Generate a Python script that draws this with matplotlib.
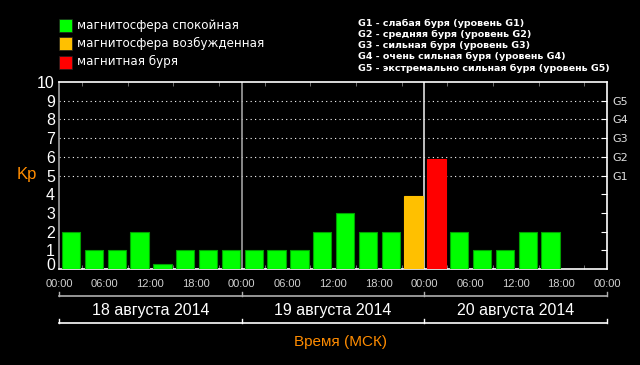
import matplotlib
matplotlib.use("Agg")
import matplotlib.pyplot as plt
import matplotlib.transforms as mtransforms
import numpy as np

# ---- data ----
kp_values = [2.0, 1.0, 1.0, 2.0, 0.25, 1.0, 1.0, 1.0,
             1.0, 1.0, 1.0, 2.0, 3.0, 2.0, 2.0, 3.93,
             5.87, 2.0, 1.0, 1.0, 2.0, 2.0]
hour_ticks = [0, 6, 12, 18, 24, 30, 36, 42, 48, 54, 60, 66, 72]
hour_labels = ["00:00", "06:00", "12:00", "18:00"] * 3 + ["00:00"]
day_labels = ["18 августа 2014", "19 августа 2014", "20 августа 2014"]
legend_labels = ["магнитосфера спокойная", "магнитосфера возбужденная", "магнитная буря"]
g_labels = ["G1", "G2", "G3", "G4", "G5"]
g_levels = [5, 6, 7, 8, 9]
g_descr = ["G1 - слабая буря (уровень G1)",
           "G2 - средняя буря (уровень G2)",
           "G3 - сильная буря (уровень G3)",
           "G4 - очень сильная буря (уровень G4)",
           "G5 - экстремально сильная буря (уровень G5)"]

GREEN, ORANGE, RED = "#00ff00", "#ffc000", "#ff0000"
def color_for(v):
    if v >= 5:
        return RED
    if v >= 4 - 0.1:
        return ORANGE
    return GREEN

plt.rcParams['font.family'] = ['DejaVu Sans']
fig = plt.figure(figsize=(6.4, 3.65), dpi=100, facecolor="black")
ax = fig.add_axes([59/640, 1-269/365, (607-59)/640, (269-82)/365])
ax.set_facecolor("black")

x = np.arange(len(kp_values)) * 3
colors = [color_for(v) for v in kp_values]
edges = ["#00a000" if c == GREEN else c for c in colors]
ax.bar(x + 0.38, kp_values, width=2.42, align="edge", color=colors,
       edgecolor=edges, linewidth=0.8, zorder=3)

ax.set_xlim(0, 72)
ax.set_ylim(0, 10)

# grid lines at G levels
for g in g_levels:
    ax.axhline(g, color="white", linestyle=(0, (1, 3)), linewidth=0.8, zorder=1)
# day separators
ax.axvline(24, color="#a0a0a0", linewidth=1.2, zorder=2)
ax.axvline(48, color="#e0e0e0", linewidth=1.2, zorder=2)

for s in ["top", "right", "bottom"]:
    ax.spines[s].set_color("white")
ax.spines["left"].set_color("#a0a0a0")
for s in ax.spines.values():
    s.set_linewidth(1.2)

ax.set_yticks(range(0, 11))
ax.set_yticklabels([str(i) for i in range(0, 11)], color="white", fontsize=11.5,
                   family="Liberation Sans")
ax.tick_params(axis="y", length=0, pad=3)
zero_lab = ax.get_yticklabels()[0]
zero_lab.set_transform(zero_lab.get_transform() +
                       mtransforms.ScaledTranslation(0, 5/100, fig.dpi_scale_trans))
ax.set_xticks(hour_ticks)
ax.set_xticklabels(hour_labels, color="#d0d0d0", fontsize=8, family="Liberation Sans")
ax.tick_params(axis="x", length=0, pad=7)
ax.set_xticks(np.arange(3, 72, 3), minor=True)
ax.tick_params(axis="x", which="minor", direction="in", length=3, color="#808080",
               top=True, bottom=True)

# right-side G labels
ax2 = ax.twinx()
ax2.set_ylim(0, 10)
ax2.set_yticks(range(1, 10))
ax2.set_yticklabels(["", "", "", ""] + g_labels, color="#e0e0e0", fontsize=8,
                    family="DejaVu Sans")
ax2.tick_params(axis="y", direction="in", length=4, color="white", pad=4)
for s in ax2.spines.values():
    s.set_visible(False)

fig.text(27/640, 1-175/365, "Kp", color="#ff8c00", fontsize=12, ha="center", va="center",
         family="Liberation Sans")

# brackets under axis
trans = mtransforms.blended_transform_factory(ax.transData, fig.transFigure)
for yb, col in [(1-296/365, "#b0b0b0"), (1-323/365, "white")]:
    ax.plot([0, 72], [yb, yb], color=col, lw=1.2, transform=trans, clip_on=False)
    for d in [0, 24, 48, 72]:
        ax.plot([d, d], [yb, yb + 4/365], color=col, lw=1.0,
                transform=trans, clip_on=False)
for i, lab in enumerate(day_labels):
    ax.text(12 + 24*i, 1-310/365, lab, color="white", fontsize=11.5, ha="center", va="center",
            transform=trans, family="Liberation Sans")

fig.text(340/640, 1-342/365, "Время (МСК)", color="#ff8c00", fontsize=11, ha="center",
         va="center", family="Liberation Sans")

# legend
leg_y = [25, 43, 61.5]
for lab, col, yy in zip(legend_labels, [GREEN, ORANGE, RED], leg_y):
    fig.patches.append(plt.Rectangle((59/640, 1-(yy+7)/365), 13/640, 13/365,
                                     transform=fig.transFigure, facecolor=col,
                                     edgecolor="#202020", lw=0.5, figure=fig))
    fig.text(77/640, 1-yy/365, lab, color="white", fontsize=8.6, ha="left", va="center",
             family="DejaVu Sans")

for i, t in enumerate(g_descr):
    fig.text(358/640, 1-(23 + 11.3*i)/365, t, color="white", fontsize=6.8, ha="left",
             va="center", fontweight="bold", family="DejaVu Sans")

fig.savefig("out.png", dpi=100, facecolor="black")
